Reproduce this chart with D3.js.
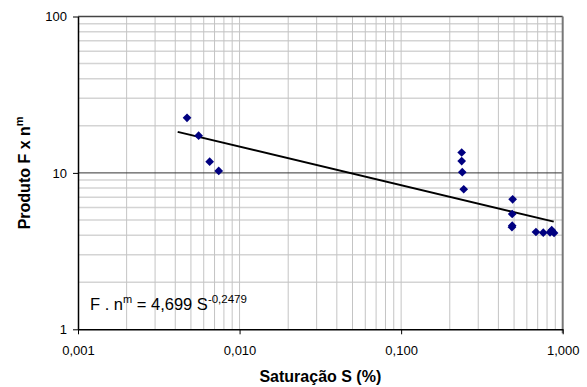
<!DOCTYPE html>
<html>
<head>
<meta charset="utf-8">
<script src="https://cdn.jsdelivr.net/npm/d3@7"></script>
<style>
  body { margin: 0; background: #fff; }
  svg { font-family: "Liberation Sans", Arial, sans-serif; }
</style>
</head>
<body>
<div id="chart"></div>
<script>
// Saturação S (%) vs produto F x n^m
var satValues = [0.00473, 0.00558, 0.00653, 0.00743,
  0.237, 0.237, 0.239, 0.244,
  0.490, 0.487, 0.487, 0.485,
  0.683, 0.758, 0.835, 0.855, 0.884];
var prodValues = [22.5, 17.3, 11.8, 10.3,
  13.5, 11.9, 10.1, 7.86,
  6.78, 5.46, 4.6, 4.5,
  4.19, 4.15, 4.17, 4.30, 4.13];

// power trend line end points (F.n^m = 4,699 S^-0,2479)
var trendX = [0.00414, 0.88];
var trendY = [18.3, 4.88];

var xTicks = [0.001, 0.01, 0.1, 1];
var yTicks = [1, 10, 100];

function drawChart(sel) {
  var width = 587, height = 387;
  var margin = { top: 16.5, right: 24.3, bottom: 57.7, left: 78 };

  var svg = d3.select(sel).append("svg")
    .attr("width", width)
    .attr("height", height);

  var x = d3.scaleLog().domain([0.001, 1]).range([margin.left, width - margin.right]);
  var y = d3.scaleLog().domain([1, 100]).range([height - margin.bottom, margin.top]);

  var locale = d3.formatLocale({ decimal: ",", thousands: ".", grouping: [3], currency: ["", ""] });
  var fmtX = locale.format(".3f");

  // minor grid
  var xMinor = [], yMinor = [];
  [0.001, 0.01, 0.1].forEach(function (d) {
    for (var k = 2; k <= 9; k++) xMinor.push(d * k);
  });
  xMinor.push(0.01, 0.1);
  [1, 10].forEach(function (d) {
    for (var k = 2; k <= 9; k++) yMinor.push(d * k);
  });

  var grid = svg.append("g");
  grid.selectAll(".hg").data(yMinor).enter().append("line")
    .attr("x1", x(0.001)).attr("x2", x(1))
    .attr("y1", function (d) { return y(d); })
    .attr("y2", function (d) { return y(d); })
    .style("stroke", "#d4d4d4").style("stroke-width", 1.5);
  grid.selectAll(".vg").data(xMinor).enter().append("line")
    .attr("y1", y(1)).attr("y2", y(100))
    .attr("x1", function (d) { return x(d); })
    .attr("x2", function (d) { return x(d); })
    .style("stroke", "#c4c4c4").style("stroke-width", 1);

  // major horizontal gridline
  grid.append("line")
    .attr("x1", x(0.001)).attr("x2", x(1))
    .attr("y1", y(10)).attr("y2", y(10))
    .style("stroke", "#333").style("stroke-width", 1);

  // plot border top / right
  svg.append("line").attr("x1", x(0.001)).attr("x2", x(1))
    .attr("y1", y(100)).attr("y2", y(100))
    .style("stroke", "#444").style("stroke-width", 1.3);
  svg.append("line").attr("x1", x(1)).attr("x2", x(1))
    .attr("y1", y(100)).attr("y2", y(1) + 4)
    .style("stroke", "#777").style("stroke-width", 2);

  // axes
  var xAxis = svg.append("g")
    .attr("transform", "translate(0," + y(1) + ")")
    .call(d3.axisBottom(x).tickValues(xTicks).tickFormat(fmtX).tickSize(5).tickPadding(11).tickSizeOuter(0));
  var yAxis = svg.append("g")
    .attr("transform", "translate(" + x(0.001) + ",0)")
    .call(d3.axisLeft(y).tickValues(yTicks).tickFormat(d3.format("d")).tickSize(5).tickPadding(6).tickSizeOuter(0));
  [xAxis, yAxis].forEach(function (a) {
    a.select(".domain").style("stroke", "#000").style("stroke-width", 1.5);
    a.selectAll(".tick line").style("stroke", "#000");
    a.selectAll("text").style("font-size", "13px").style("fill", "#000")
      .style("font-family", "'Liberation Sans', Arial, sans-serif");
  });

  // trend line
  var line = d3.line()
    .x(function (d, i) { return x(d); })
    .y(function (d, i) { return y(trendY[i]); });
  svg.append("path")
    .datum(trendX)
    .attr("d", line)
    .style("fill", "none")
    .style("stroke", "#000")
    .style("stroke-width", 2);

  // markers
  svg.append("g").selectAll("path")
    .data(satValues)
    .enter().append("path")
    .attr("d", d3.symbol().type(d3.symbolSquare).size(38))
    .attr("transform", function (d, i) {
      return "translate(" + x(d) + "," + y(prodValues[i]) + ") rotate(45)";
    })
    .style("fill", "#000080");

  // equation
  var eq = svg.append("text")
    .attr("x", 90).attr("y", 310)
    .style("font-size", "16.5px");
  eq.append("tspan").text("F . n");
  eq.append("tspan").attr("dy", -7).style("font-size", "11px").text("m");
  eq.append("tspan").attr("dy", 7).text(" = 4,699 S");
  eq.append("tspan").attr("dy", -7).style("font-size", "11.5px").text("-0,2479");

  // axis titles
  svg.append("text")
    .attr("x", (x(0.001) + x(1)) / 2).attr("y", 382)
    .attr("text-anchor", "middle")
    .style("font-size", "16px").style("font-weight", "bold")
    .text("Saturação S (%)");

  var yt = svg.append("text")
    .attr("transform", "translate(29.5," + (y(1) + y(100)) / 2 + ") rotate(-90)")
    .attr("text-anchor", "middle")
    .style("font-size", "16px").style("font-weight", "bold");
  yt.append("tspan").text("Produto F x n");
  yt.append("tspan").attr("dy", -7).style("font-size", "11px").text("m");
}

drawChart("#chart");
</script>
</body>
</html>
